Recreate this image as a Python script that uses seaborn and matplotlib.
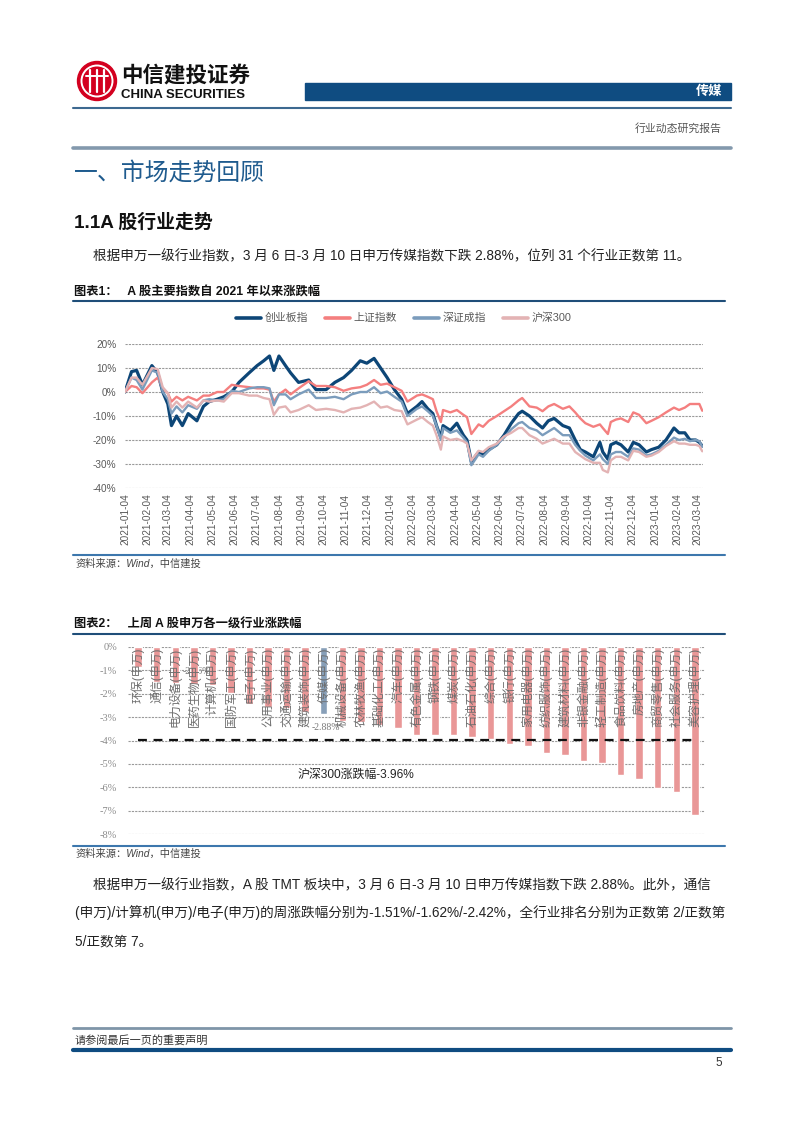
import numpy as np
import pandas as pd
import seaborn as sns
import matplotlib
matplotlib.use("Agg")
from matplotlib import pyplot as plt
import matplotlib.dates as mdates
from matplotlib.patches import Circle, Rectangle
from matplotlib.lines import Line2D

# ---- chart 1: cumulative change since 2021-01-04 (%) ----
dates = [
    "2021-01-04", "2021-01-13", "2021-01-20", "2021-01-28", "2021-02-10", "2021-02-18",
    "2021-02-25", "2021-03-04", "2021-03-09", "2021-03-16", "2021-03-24", "2021-04-01",
    "2021-04-13", "2021-04-22", "2021-04-30", "2021-05-11", "2021-05-20", "2021-05-31",
    "2021-06-10", "2021-06-24", "2021-07-05", "2021-07-14", "2021-07-22", "2021-07-28",
    "2021-08-04", "2021-08-13", "2021-08-20", "2021-08-31", "2021-09-14", "2021-09-24",
    "2021-10-08", "2021-10-20", "2021-11-01", "2021-11-12", "2021-11-24", "2021-12-03",
    "2021-12-13", "2021-12-22", "2021-12-31", "2022-01-10", "2022-01-20", "2022-01-28",
    "2022-02-10", "2022-02-17", "2022-02-25", "2022-03-04", "2022-03-09", "2022-03-15",
    "2022-03-18", "2022-03-28", "2022-04-06", "2022-04-15", "2022-04-20", "2022-04-26",
    "2022-05-06", "2022-05-12", "2022-05-20", "2022-05-31", "2022-06-10", "2022-06-20",
    "2022-06-30", "2022-07-05", "2022-07-15", "2022-07-25", "2022-08-02", "2022-08-10",
    "2022-08-18", "2022-08-30", "2022-09-08", "2022-09-16", "2022-09-23", "2022-09-30",
    "2022-10-11", "2022-10-20", "2022-10-24", "2022-10-31", "2022-11-04", "2022-11-11",
    "2022-11-18", "2022-11-28", "2022-12-05", "2022-12-13", "2022-12-23", "2022-12-30",
    "2023-01-09", "2023-01-19", "2023-01-30", "2023-02-06", "2023-02-14", "2023-02-21",
    "2023-03-01", "2023-03-06", "2023-03-10",
]
cyb = [0, 8.5, 9, 3, 11, 8, 0, -5, -14, -10, -14, -9, -12, -6, -4, -3, -2, 0,
       4, 8, 11, 13, 15, 9, 15, 11, 8, 4, 5, 1, 1, 4, 6, 9, 13, 12, 14, 10, 6,
       1, -3, -9, -6, -4, -7, -9, -14, -19, -14, -16, -13, -18, -20, -29,
       -25, -26, -24, -22, -18, -13, -9, -8, -10, -13, -15, -12, -11, -14,
       -15, -20, -24, -25, -27, -21, -25, -28, -22, -21, -22, -25, -21, -22,
       -25, -24, -23, -20, -15, -17, -17, -20, -20, -21, -22.5]
sh = [0, 2.5, 2, -0.5, 4, 6, 1.5, -0.5, -4, -2, -3.5, -2, -3.5, -1.5, -1.5, 0, 0, 3,
      2.5, 2, 1.5, 1.5, 1, -4, -1, 1, -1, 1.5, 4.5, 2.5, 2.5, 2, 0.5, 1.5, 2, 3, 5, 3, 3.5,
      2, 0.5, -4, -1.5, -1, -2, -3, -8, -12.5, -7.5, -8.5, -7.5, -9.5, -10.5, -17.5,
      -13.5, -14.5, -12, -10, -8, -6, -3.5, -2.5, -6, -6.5, -8, -6, -5, -7,
      -6, -8.5, -11, -13, -14.5, -13.5, -15, -17.5, -12.5, -11.5, -11, -12.5, -8.5, -9.5,
      -13, -12, -10.5, -8.5, -6.5, -7.5, -6.5, -5, -5, -5, -7.8]
sz = [0, 6, 5, 1, 9, 8, 0, -3, -9, -6, -8.5, -5.5, -7, -3.5, -3, -3.5, -3, 0.5,
      0, 1.5, 2, 2, 1.5, -5.5, -1, -1, -3, -1, 1, -2.5, -2.5, -2, -3, -1, 0, 0, 2, -0.5, 0.2,
      -2, -4, -10, -7, -6, -8, -10, -14, -20, -15, -17, -16, -19, -21, -30.5,
      -26, -27, -24.5, -22, -19, -15.5, -13, -12.5, -15, -16, -18, -16.5, -15, -18,
      -18, -22, -24.5, -26.5, -28.5, -26, -28, -30, -26, -25, -25, -27, -23.5, -24,
      -26.5, -26, -24.5, -22, -19, -20, -19.5, -20.5, -20, -20.5, -22.8]
hs300 = [0, 6, 6, 3, 10, 9.5, 2, -0.5, -6.5, -4, -6.5, -4, -6.5, -3.5, -4, -3.5, -4, -0.5,
         -0.5, -1.5, -1.5, -2.5, -3, -9.5, -6.5, -6, -8.5, -7.5, -5.5, -7.5, -7, -7.5, -8.5, -7,
         -6.5, -5.5, -4, -6.5, -6,
         -7.5, -8, -13.5, -11.5, -10.5, -12.5, -14, -18, -24, -18.5, -20, -19.5, -20.5, -21.5, -28.5,
         -24.5, -25, -23, -21.5, -18.5, -17, -15, -15, -18, -19.5, -21.5, -20.5, -19.5, -21.5,
         -21.5, -25, -26.5, -28, -29.5, -29.5, -32.5, -33.5, -28.5, -27, -27, -28.5, -24.5, -25,
         -27, -26.5, -25, -22.5, -20.5, -21.5, -21.5, -22, -22, -22.5, -24.7]
series_names = ["创业板指", "上证指数", "深证成指", "沪深300"]
series_colors = ["#0d4677", "#f47f7f", "#7b9cbc", "#e3b3b4"]

# ---- chart 2: last week's change of the 31 SW level-1 industries (%) ----
industries = ["环保", "通信", "电力设备", "医药生物", "计算机", "国防军工", "电子",
              "公用事业", "交通运输", "建筑装饰", "传媒", "机械设备", "农林牧渔",
              "基础化工", "汽车", "有色金属", "钢铁", "煤炭", "石油石化", "综合",
              "银行", "家用电器", "纺织服饰", "建筑材料", "非银金融", "轻工制造",
              "食品饮料", "房地产", "商贸零售", "社会服务", "美容护理"]
week_chg = [-0.85, -1.51, -1.56, -1.60, -1.62, -1.98, -2.42, -2.55, -2.62, -2.76, -2.88,
            -3.18, -3.20, -3.32, -3.47, -3.75, -3.76, -3.78, -3.86, -3.93, -4.13, -4.24,
            -4.53, -4.60, -4.89, -4.95, -5.49, -5.63, -6.04, -6.22, -7.19]
hs300_week = -3.96
highlight = "传媒"

sns.set_style("white")
plt.rcParams["font.family"] = ["Liberation Sans", "Noto Sans CJK SC", "DejaVu Sans"]
plt.rcParams["axes.unicode_minus"] = False

W, H = 802, 1133
fig = plt.figure(figsize=(W / 100, H / 100), dpi=100)

# page layer in pixel coordinates
page = fig.add_axes([0, 0, 1, 1])
page.set_xlim(0, W)
page.set_ylim(H, 0)
page.axis("off")

navy = "#0f4c81"

# header
page.add_patch(Circle((97, 81), 19.5, color="#d3001f"))
page.add_patch(Circle((97, 81), 15.5, fill=False, ec="white", lw=1.4))
for dx in (-7, 0, 7):
    page.plot([97 + dx, 97 + dx], [70, 92], color="white", lw=1.6)
page.plot([86, 108], [76, 76], color="white", lw=1.4)
page.text(121, 76, "中信建投证券", fontsize=15.5, fontweight="bold", va="center", color="#111")
page.text(121, 95, "CHINA SECURITIES", fontsize=9.5, fontweight="bold", va="center", color="#111")
page.add_patch(Rectangle((305, 83), 426, 17, color=navy))
page.text(722, 91.5, "传媒", fontsize=9.5, fontweight="bold", color="white", ha="right", va="center")
page.plot([73, 731], [108, 108], color="#3d6990", lw=1.5)
page.text(722, 128, "行业动态研究报告", fontsize=7.8, color="#555", ha="right", va="center")
page.plot([73, 731], [148, 148], color="#8399ad", lw=2.6)

page.text(74, 173, "一、市场走势回顾", fontsize=17.2, color="#1f5b8e", va="center")
page.text(74, 223, "1.1A 股行业走势", fontsize=13.6, fontweight="bold", color="#111", va="center")
page.text(93, 256, "根据申万一级行业指数，3 月 6 日-3 月 10 日申万传媒指数下跌 2.88%，位列 31 个行业正数第 11。",
          fontsize=9.8, color="#222", va="center")

page.text(74, 293, "图表1：   A 股主要指数自 2021 年以来涨跌幅", fontsize=8.8, fontweight="bold",
          color="#111", va="center")
page.plot([73, 725], [301, 301], color="#1f4e79", lw=1.5)
page.plot([73, 725], [555, 555], color="#3d77ad", lw=1.5)
page.text(75, 564, "资料来源：Wind，中信建投", fontsize=7.4, style="italic", color="#444", va="center")

page.text(74, 625, "图表2：   上周 A 股申万各一级行业涨跌幅", fontsize=8.8, fontweight="bold",
          color="#111", va="center")
page.plot([73, 725], [634, 634], color="#1f4e79", lw=1.5)
page.plot([73, 725], [846, 846], color="#3d77ad", lw=1.5)
page.text(75, 854, "资料来源：Wind，中信建投", fontsize=7.4, style="italic", color="#444", va="center")

para = [
    (93, 885, "根据申万一级行业指数，A 股 TMT 板块中，3 月 6 日-3 月 10 日申万传媒指数下跌 2.88%。此外，通信"),
    (75, 913, "(申万)/计算机(申万)/电子(申万)的周涨跌幅分别为-1.51%/-1.62%/-2.42%，全行业排名分别为正数第 2/正数第"),
    (75, 941, "5/正数第 7。"),
]
for x, y, s in para:
    page.text(x, y, s, fontsize=9.8, color="#222", va="center")

# footer
page.plot([73, 731], [1028, 1028], color="#7f95a8", lw=2)
page.text(75, 1040, "请参阅最后一页的重要声明", fontsize=8, color="#333", va="center")
page.plot([73, 731], [1050, 1050], color=navy, lw=3)
page.text(722, 1063, "5", fontsize=8.5, color="#333", ha="right", va="center")

# ---- chart 1 ----
ax1 = fig.add_axes([125 / W, 1 - 488 / H, 578 / W, 144 / H])
ax1.patch.set_alpha(0)
df = pd.DataFrame({"date": pd.to_datetime(dates), "创业板指": cyb, "上证指数": sh,
                   "深证成指": sz, "沪深300": hs300})
long = df.melt(id_vars="date", var_name="index", value_name="chg")
sns.lineplot(data=long, x="date", y="chg", hue="index", hue_order=series_names,
             palette=series_colors, linewidth=1.7, legend=False, ax=ax1)
ax1.lines[0].set_linewidth(2.3)
ax1.set_ylim(-40, 20)
ax1.set_xlim(pd.Timestamp("2021-01-04"), pd.Timestamp("2023-03-11"))
ax1.set_yticks(range(-40, 21, 10))
ax1.set_yticklabels([f"{v}%" for v in range(-40, 21, 10)])
ax1.xaxis.set_major_locator(mdates.MonthLocator(bymonthday=4))
ax1.xaxis.set_major_formatter(mdates.DateFormatter("%Y-%m-%d"))
ax1.tick_params(axis="x", rotation=90, labelsize=7.2, colors="#595959", length=0, pad=4)
ax1.tick_params(axis="y", labelsize=7.2, colors="#595959", length=0, pad=6)
ax1.grid(axis="y", color="#9a9a9a", lw=0.8, ls=(0, (2, 1)))
ax1.set_axisbelow(True)
ax1.set_xlabel("")
ax1.set_ylabel("")
for sp in ax1.spines.values():
    sp.set_visible(False)

handles = [Line2D([], [], color=c, lw=2.6) for c in series_colors]
leg = fig.legend(handles, series_names, loc="center", bbox_to_anchor=(404 / W, 1 - 318 / H),
                 ncol=4, frameon=False, fontsize=7.8, handlelength=2.3, handletextpad=0.3,
                 columnspacing=1.6)
for t in leg.get_texts():
    t.set_color("#595959")

# ---- chart 2 ----
ax2 = fig.add_axes([128 / W, 1 - 834 / H, 577 / W, 187 / H])
ax2.patch.set_alpha(0)
bar_df = pd.DataFrame({"industry": industries, "chg": week_chg})
bar_df["group"] = np.where(bar_df["industry"] == highlight, "hl", "other")
sns.barplot(data=bar_df, x="industry", y="chg", hue="group",
            palette={"hl": "#7f9fc0", "other": "#f7898a"}, dodge=False, width=0.4,
            legend=False, ax=ax2, zorder=3)
serif = ["Liberation Serif", "Noto Sans CJK SC"]
ax2.set_xlim(-0.55, len(industries) - 0.45)
ax2.set_ylim(-8, 0)
ax2.set_yticks(range(-8, 1))
ax2.set_yticklabels([f"{v}%" for v in range(-8, 1)], family=serif)
ax2.tick_params(axis="y", labelsize=7.5, colors="#8a8a8a", length=0, pad=8)
ax2.set_xticks([])
ax2.set_xlabel("")
ax2.set_ylabel("")
ax2.grid(axis="y", color="#9a9a9a", lw=0.8, ls=(0, (2, 1)))
ax2.set_axisbelow(True)
for sp in ax2.spines.values():
    sp.set_visible(False)

for i, name in enumerate(industries):
    ax2.text(i, -0.04, f"{name}(申万)", rotation=90, ha="center", va="top",
             fontsize=8.6, color="#6e6e6e", zorder=5)

ax2.hlines(hs300_week, 0, len(industries) - 1, colors="#111", lw=1.6,
           linestyles=(0, (4, 3)), zorder=4)
ax2.text(11.75, -5.48, f"沪深300涨跌幅{hs300_week:.2f}%", fontsize=8.6, color="#222",
         ha="center", va="center", zorder=5)
ax2.text(3.15, -1.05, "-2.96%", fontsize=7, color="#7a7a7a", family=serif,
         ha="center", va="center", zorder=2)
ax2.text(10.1, -3.43, "-2.88%", fontsize=7, color="#7a7a7a", family=serif,
         ha="center", va="center", zorder=5)

fig.savefig("out.png", dpi=100)
